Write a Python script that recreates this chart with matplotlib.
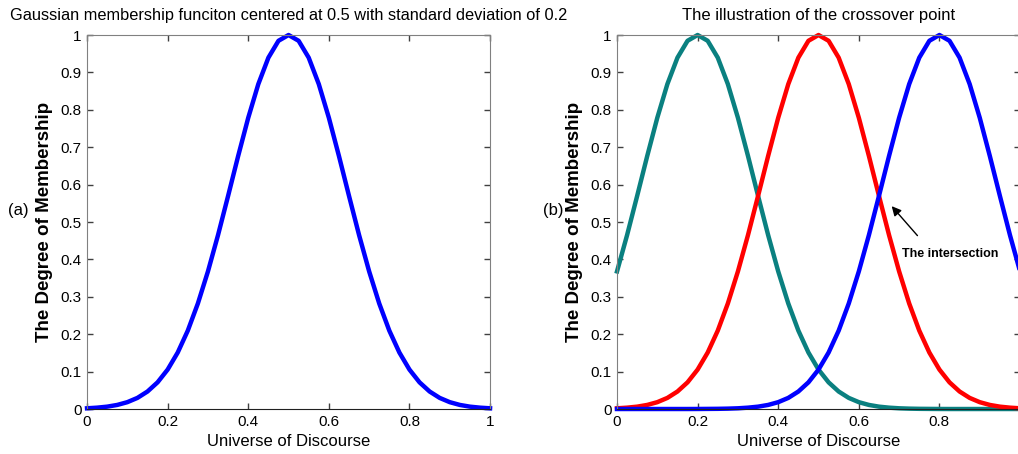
import matplotlib
matplotlib.use("Agg")
import matplotlib.pyplot as plt

plt.rcParams['font.family'] = ['Liberation Sans', 'DejaVu Sans']

# universe of discourse (sample points)
x = [0.0, 0.025, 0.05, 0.075, 0.1, 0.125, 0.15, 0.175, 0.2, 0.225,
     0.25, 0.275, 0.3, 0.325, 0.35, 0.375, 0.4, 0.425, 0.45, 0.475,
     0.5, 0.525, 0.55, 0.575, 0.6, 0.625, 0.65, 0.675, 0.7, 0.725,
     0.75, 0.775, 0.8, 0.825, 0.85, 0.875, 0.9, 0.925, 0.95, 0.975, 1.0]

# membership centered at 0.5
mf_mid = [0.0019, 0.0036, 0.0063, 0.0109, 0.0183, 0.0297, 0.0468, 0.0713, 0.1054, 0.1510,
          0.2096, 0.2821, 0.3679, 0.4650, 0.5698, 0.6766, 0.7788, 0.8688, 0.9394, 0.9845,
          1.0, 0.9845, 0.9394, 0.8688, 0.7788, 0.6766, 0.5698, 0.4650, 0.3679, 0.2821,
          0.2096, 0.1510, 0.1054, 0.0713, 0.0468, 0.0297, 0.0183, 0.0109, 0.0063, 0.0036, 0.0019]

# membership centered at 0.2
mf_low = [0.3679, 0.4650, 0.5698, 0.6766, 0.7788, 0.8688, 0.9394, 0.9845, 1.0, 0.9845,
          0.9394, 0.8688, 0.7788, 0.6766, 0.5698, 0.4650, 0.3679, 0.2821, 0.2096, 0.1510,
          0.1054, 0.0713, 0.0468, 0.0297, 0.0183, 0.0109, 0.0063, 0.0036, 0.0019, 0.0010,
          0.0005, 0.0003, 0.0001, 0.0, 0.0, 0.0, 0.0, 0.0, 0.0, 0.0, 0.0]

# membership centered at 0.8
mf_high = [0.0, 0.0, 0.0, 0.0, 0.0, 0.0, 0.0, 0.0, 0.0001, 0.0003,
           0.0005, 0.0010, 0.0019, 0.0036, 0.0063, 0.0109, 0.0183, 0.0297, 0.0468, 0.0713,
           0.1054, 0.1510, 0.2096, 0.2821, 0.3679, 0.4650, 0.5698, 0.6766, 0.7788, 0.8688,
           0.9394, 0.9845, 1.0, 0.9845, 0.9394, 0.8688, 0.7788, 0.6766, 0.5698, 0.4650, 0.3679]

xticks = [0, 0.2, 0.4, 0.6, 0.8, 1]
xticklabels_a = ['0', '0.2', '0.4', '0.6', '0.8', '1']
xticklabels_b = ['0', '0.2', '0.4', '0.6', '0.8', '']   # last label falls off the image
yticks = [0, 0.1, 0.2, 0.3, 0.4, 0.5, 0.6, 0.7, 0.8, 0.9, 1]
yticklabels = ['0', '0.1', '0.2', '0.3', '0.4', '0.5', '0.6', '0.7', '0.8', '0.9', '1']

fig = plt.figure(figsize=(10.18, 4.54), dpi=100)
ax1 = fig.add_axes([0.0855, 0.0991, 0.3959, 0.8238])
ax2 = fig.add_axes([0.6061, 0.0991, 0.3959, 0.8238])


def style(ax, xlabels):
    ax.set_xlim(0, 1)
    ax.set_ylim(0, 1)
    ax.set_xticks(xticks)
    ax.set_xticklabels(xlabels)
    ax.set_yticks(yticks)
    ax.set_yticklabels(yticklabels)
    ax.tick_params(direction='in', top=True, right=True, length=4, width=1,
                   labelsize=11, color='#404040', pad=4)
    for s in ['top', 'right', 'left']:
        ax.spines[s].set_color('#808080')
    ax.spines['bottom'].set_color('#202020')
    ax.set_xlabel('Universe of Discourse', fontsize=12, labelpad=4)
    ax.set_ylabel('The Degree of Membership', fontsize=13.5, fontweight='bold', labelpad=5)


ax1.plot(x, mf_mid, color='#0000ff', lw=3.2, clip_on=False)
style(ax1, xticklabels_a)
ax1.set_title('Gaussian membership funciton centered at 0.5 with standard deviation of 0.2',
              fontsize=11.75, pad=11)
fig.text(0.008, 0.537, '(a)', fontsize=12, va='center')

ax2.plot(x, mf_low, color='#0a8080', lw=3.2, clip_on=False)
ax2.plot(x, mf_mid, color='#ff0000', lw=3.2, clip_on=False)
ax2.plot(x, mf_high, color='#0000ff', lw=3.2, clip_on=False)
style(ax2, xticklabels_b)
ax2.set_title('The illustration of the crossover point', fontsize=12, pad=11)
fig.text(0.533, 0.537, '(b)', fontsize=12, va='center')
ax2.annotate('The intersection', xy=(0.677, 0.548), xytext=(0.707, 0.415),
             fontsize=9, fontweight='bold', va='center', ha='left')
ax2.annotate('', xy=(0.677, 0.548), xytext=(0.75, 0.458),
             arrowprops=dict(arrowstyle='-|>', color='black', lw=1, mutation_scale=14))

fig.savefig('out.png', dpi=100)
